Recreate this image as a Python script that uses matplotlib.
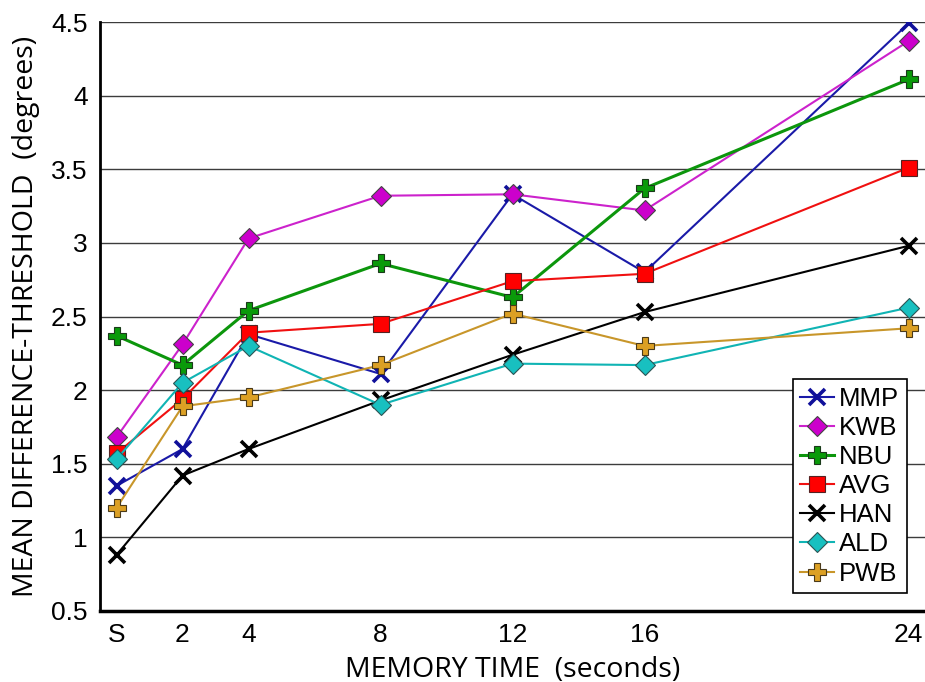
import numpy as np
import matplotlib.pyplot as plt

# memory time in seconds, S = simultaneous (0)
t = [0, 2, 4, 8, 12, 16, 24]
t_labels = ['S', '2', '4', '8', '12', '16', '24']

mmp = [1.35, 1.60, 2.38, 2.11, 3.33, 2.80, 4.49]
kwb = [1.68, 2.31, 3.03, 3.32, 3.33, 3.22, 4.37]
nbu = [2.37, 2.17, 2.54, 2.86, 2.63, 3.37, 4.11]
avg = [1.57, 1.94, 2.39, 2.45, 2.74, 2.79, 3.51]
han = [0.88, 1.42, 1.60, 1.93, 2.24, 2.53, 2.98]
ald = [1.53, 2.05, 2.30, 1.90, 2.18, 2.17, 2.56]
pwb = [1.20, 1.89, 1.95, 2.17, 2.52, 2.30, 2.42]

fig = plt.figure(figsize=(9.25, 6.82), dpi=100)
ax = fig.add_axes([100/925, 1 - 611/682, 825/925, 589/682])

ax.plot(t, mmp, '-', color='#1a1aa8', lw=1.5, marker='x', ms=11, mew=2.6,
        mec='#10109a', label='MMP', zorder=3)
ax.plot(t, kwb, '-', color='#cc22cc', lw=1.5, marker='D', ms=10, mfc='#cc00cc',
        mec='#444444', mew=0.8, label='KWB', zorder=3)
ax.plot(t, nbu, '-', color='#0c960c', lw=2.2, marker='P', ms=12.5, mfc='#0a9a0a',
        mec='#1a3a1a', mew=0.8, label='NBU', zorder=3)
ax.plot(t, avg, '-', color='#f01010', lw=1.5, marker='s', ms=12, mfc='#ff0000',
        mec='#552222', mew=0.8, label='AVG', zorder=3)
ax.plot(t, han, '-', color='black', lw=1.5, marker='x', ms=11, mew=2.6,
        label='HAN', zorder=3)
ax.plot(t, ald, '-', color='#10b4b4', lw=1.5, marker='D', ms=10, mfc='#18c0c0',
        mec='#2a5555', mew=0.8, label='ALD', zorder=3)
ax.plot(t, pwb, '-', color='#c8962a', lw=1.5, marker='P', ms=12.5, mfc='#dca024',
        mec='#4a3a1a', mew=0.8, label='PWB', zorder=3)

ax.set_xlim(-0.5, 24.5)
ax.set_ylim(0.5, 4.5)
ax.set_xticks(t)
ax.set_xticklabels(t_labels)
ax.set_yticks(np.arange(0.5, 4.51, 0.5))
ax.set_yticklabels(['0.5', '1', '1.5', '2', '2.5', '3', '3.5', '4', '4.5'])
ax.tick_params(length=0, labelsize=19, pad=9)
for lab in ax.get_xticklabels() + ax.get_yticklabels():
    lab.set_family('Liberation Sans')

ax.yaxis.grid(True, color='#3c3c3c', lw=1.0)
ax.set_axisbelow(True)
ax.spines['top'].set_visible(False)
ax.spines['right'].set_visible(False)
ax.spines['left'].set_linewidth(2)
ax.spines['bottom'].set_linewidth(2.5)

ax.set_xlabel('MEMORY TIME  (seconds)', family='Open Sans', fontsize=20.5, labelpad=6)
ax.set_ylabel('MEAN DIFFERENCE-THRESHOLD  (degrees)', family='Open Sans',
              fontsize=20.5, labelpad=8)

leg = ax.legend(loc='lower right', bbox_to_anchor=(0.978, 0.03), borderaxespad=0,
                fancybox=False, edgecolor='black', framealpha=1,
                prop={'family': 'Liberation Sans', 'size': 18.5},
                handlelength=1.3, handletextpad=0.2, labelspacing=0.2,
                borderpad=0.3)
leg.get_frame().set_linewidth(1.2)

fig.savefig('out.png', dpi=100)
